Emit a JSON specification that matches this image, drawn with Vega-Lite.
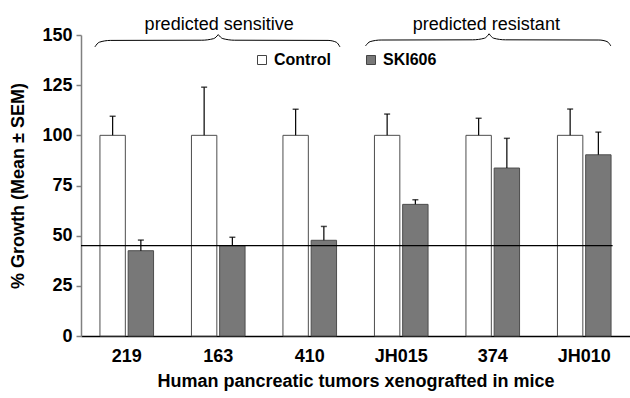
{
  "$schema": "https://vega.github.io/schema/vega-lite/v6.json",
  "width": 549,
  "height": 301,
  "autosize": {"type": "none"},
  "padding": {"left": 81, "top": 35, "right": 0, "bottom": 62},
  "config": {
    "font": "Liberation Sans",
    "view": {"stroke": null},
    "axis": {"grid": false}
  },
  "datasets": {
    "bars": [
      {"tumor": "219", "group": "Control", "mean": 100, "upper": 109.5},
      {"tumor": "219", "group": "SKI606", "mean": 42.5, "upper": 47.8},
      {"tumor": "163", "group": "Control", "mean": 100, "upper": 124},
      {"tumor": "163", "group": "SKI606", "mean": 45, "upper": 49.2},
      {"tumor": "410", "group": "Control", "mean": 100, "upper": 113},
      {"tumor": "410", "group": "SKI606", "mean": 47.7, "upper": 54.6},
      {"tumor": "JH015", "group": "Control", "mean": 100, "upper": 110.6},
      {"tumor": "JH015", "group": "SKI606", "mean": 65.6, "upper": 67.9},
      {"tumor": "374", "group": "Control", "mean": 100, "upper": 108.5},
      {"tumor": "374", "group": "SKI606", "mean": 83.7, "upper": 98.5},
      {"tumor": "JH010", "group": "Control", "mean": 100, "upper": 113.1},
      {"tumor": "JH010", "group": "SKI606", "mean": 90.3, "upper": 101.6}
    ],
    "braces": [
      {"seg": "s1", "bx": 0.152, "by": 144.1},
      {"seg": "s1", "bx": 0.2, "by": 146.4},
      {"seg": "s1", "bx": 0.32, "by": 147.3},
      {"seg": "s1", "bx": 1.32, "by": 147.4},
      {"seg": "s1", "bx": 1.45, "by": 148.2},
      {"seg": "s1", "bx": 1.5, "by": 150.2},
      {"seg": "s2", "bx": 1.5, "by": 150.2},
      {"seg": "s2", "bx": 1.55, "by": 148.2},
      {"seg": "s2", "bx": 1.68, "by": 147.4},
      {"seg": "s2", "bx": 2.7, "by": 147.3},
      {"seg": "s2", "bx": 2.79, "by": 146.4},
      {"seg": "s2", "bx": 2.83, "by": 144.1},
      {"seg": "r1", "bx": 3.11, "by": 144.6},
      {"seg": "r1", "bx": 3.16, "by": 146.7},
      {"seg": "r1", "bx": 3.28, "by": 147.5},
      {"seg": "r1", "bx": 4.28, "by": 147.6},
      {"seg": "r1", "bx": 4.41, "by": 148.4},
      {"seg": "r1", "bx": 4.46, "by": 150.6},
      {"seg": "r2", "bx": 4.46, "by": 150.6},
      {"seg": "r2", "bx": 4.51, "by": 148.4},
      {"seg": "r2", "bx": 4.64, "by": 147.6},
      {"seg": "r2", "bx": 5.66, "by": 147.5},
      {"seg": "r2", "bx": 5.75, "by": 146.7},
      {"seg": "r2", "bx": 5.79, "by": 144.6}
    ],
    "notes": [
      {"label": "predicted sensitive", "tx": 1.51, "ty": 152.5},
      {"label": "predicted resistant", "tx": 4.43, "ty": 152.5}
    ],
    "threshold": [
      {"level": 45, "from": 0, "to": 5.81}
    ]
  },
  "layer": [
    {
      "data": {"name": "bars"},
      "layer": [
        {
          "mark": {"type": "bar", "stroke": "#4d4d4d", "strokeWidth": 1},
          "encoding": {
            "x": {
              "field": "tumor", "type": "nominal",
              "sort": ["219", "163", "410", "JH015", "374", "JH010"],
              "scale": {"paddingInner": 0.414, "paddingOuter": 0.207},
              "axis": {
                "title": "Human pancreatic tumors xenografted in mice",
                "titleFontSize": 18, "titleFontWeight": "bold", "titleColor": "#000", "titlePadding": 7,
                "labelFontSize": 18, "labelFontWeight": "bold", "labelColor": "#000", "labelAngle": 0,
                "labelPadding": 11, "ticks": false,
                "domainColor": "#000", "domainWidth": 1.5
              }
            },
            "xOffset": {"field": "group", "type": "nominal", "sort": ["Control", "SKI606"], "scale": {"paddingInner": 0.1}},
            "y": {
              "field": "mean", "type": "quantitative",
              "scale": {"domain": [0, 150], "nice": false},
              "axis": {
                "title": "% Growth (Mean ± SEM)",
                "values": [0, 25, 50, 75, 100, 125, 150],
                "titleFontSize": 18, "titleFontWeight": "bold", "titleColor": "#000", "titlePadding": 14,
                "labelFontSize": 18, "labelFontWeight": "bold", "labelColor": "#000", "labelPadding": 4,
                "tickSize": 5, "tickColor": "#808080", "domainColor": "#808080", "domainWidth": 1.5, "tickWidth": 1.5
              }
            },
            "color": {
              "field": "group", "type": "nominal",
              "scale": {"domain": ["Control", "SKI606"], "range": ["#ffffff", "#787878"]},
              "legend": {
                "title": null, "orient": "none", "legendX": 173, "legendY": 17,
                "direction": "horizontal", "symbolType": "square", "symbolSize": 81,
                "symbolStrokeColor": "#444444", "symbolStrokeWidth": 1,
                "labelFontSize": 16, "labelFontWeight": "bold", "labelColor": "#000",
                "labelOffset": 4, "columnPadding": 32, "padding": 0
              }
            }
          }
        },
        {
          "mark": {"type": "rule", "color": "#000", "strokeWidth": 1.2},
          "encoding": {
            "x": {"field": "tumor", "type": "nominal", "sort": ["219", "163", "410", "JH015", "374", "JH010"]},
            "xOffset": {"field": "group", "type": "nominal", "sort": ["Control", "SKI606"]},
            "y": {"field": "mean", "type": "quantitative", "title": "% Growth (Mean ± SEM)", "scale": {"domain": [0, 150], "nice": false}},
            "y2": {"field": "upper"}
          }
        },
        {
          "mark": {"type": "tick", "orient": "horizontal", "size": 6, "thickness": 1.5, "color": "#000"},
          "encoding": {
            "x": {"field": "tumor", "type": "nominal", "sort": ["219", "163", "410", "JH015", "374", "JH010"]},
            "xOffset": {"field": "group", "type": "nominal", "sort": ["Control", "SKI606"]},
            "y": {"field": "upper", "type": "quantitative", "title": "% Growth (Mean ± SEM)", "scale": {"domain": [0, 150], "nice": false}}
          }
        }
      ]
    },
    {
      "data": {"name": "threshold"},
      "mark": {"type": "rule", "color": "#000", "strokeWidth": 1.2},
      "encoding": {
        "x": {"field": "from", "type": "quantitative", "scale": {"domain": [0, 6], "nice": false, "zero": false}, "axis": null},
        "x2": {"field": "to"},
        "y": {"field": "level", "type": "quantitative", "title": "% Growth (Mean ± SEM)", "scale": {"domain": [0, 150], "nice": false}}
      }
    },
    {
      "data": {"name": "braces"},
      "mark": {"type": "line", "interpolate": "monotone", "color": "#000", "strokeWidth": 1},
      "encoding": {
        "x": {"field": "bx", "type": "quantitative", "scale": {"domain": [0, 6], "nice": false, "zero": false}, "axis": null},
        "y": {"field": "by", "type": "quantitative", "title": "% Growth (Mean ± SEM)", "scale": {"domain": [0, 150], "nice": false}},
        "detail": {"field": "seg", "type": "nominal"},
        "order": {"field": "bx", "type": "quantitative"}
      }
    },
    {
      "data": {"name": "notes"},
      "mark": {"type": "text", "fontSize": 18, "align": "center", "baseline": "alphabetic", "color": "#000"},
      "encoding": {
        "x": {"field": "tx", "type": "quantitative", "scale": {"domain": [0, 6], "nice": false, "zero": false}, "axis": null},
        "y": {"field": "ty", "type": "quantitative", "title": "% Growth (Mean ± SEM)", "scale": {"domain": [0, 150], "nice": false}},
        "text": {"field": "label", "type": "nominal"}
      }
    }
  ],
  "resolve": {"scale": {"x": "independent"}}
}
